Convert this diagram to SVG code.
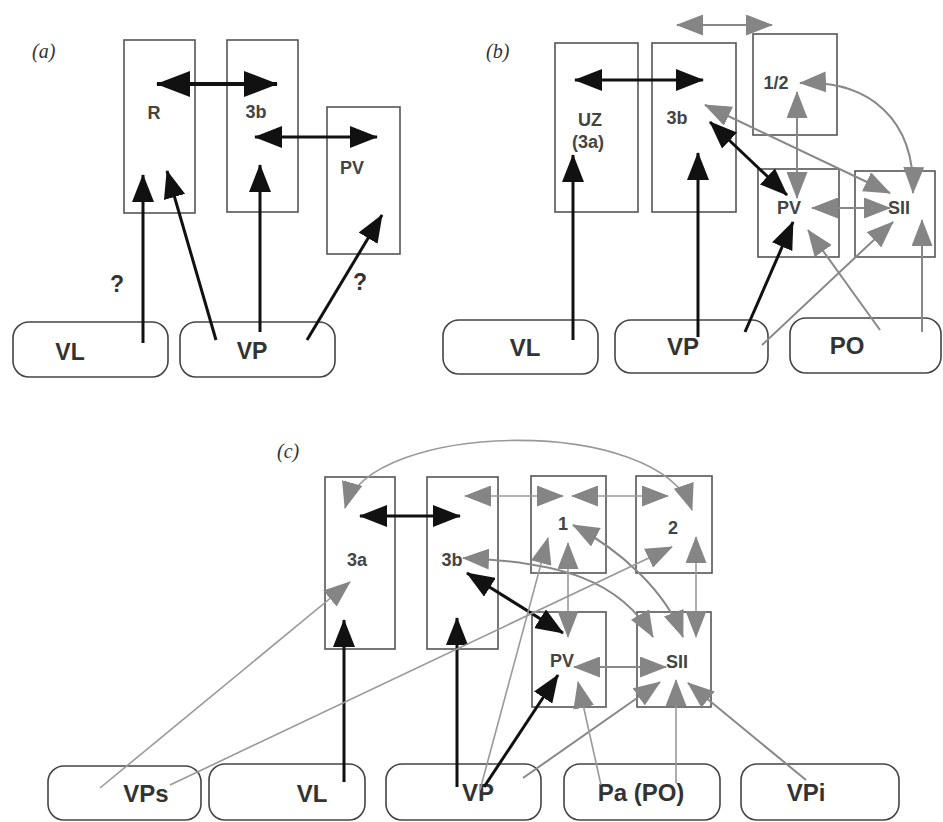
<svg xmlns="http://www.w3.org/2000/svg" width="943" height="822" viewBox="0 0 943 822">
<style>
.box{fill:none;stroke:#555;stroke-width:1.6}
.rbox{fill:none;stroke:#444;stroke-width:1.6}
.lbl{font-family:"Liberation Sans",Arial,sans-serif;font-size:18px;font-weight:bold;fill:#444;text-anchor:middle}
.big{font-family:"Liberation Sans",Arial,sans-serif;font-size:24px;font-weight:bold;fill:#333;text-anchor:middle}
.bga{font-size:23px}
.pan{font-family:"Liberation Serif","Times New Roman",serif;font-style:italic;font-size:20px;fill:#333}
.k{fill:none;stroke:#111;stroke-width:3}
.kl{fill:none;stroke:#111;stroke-width:4}
.g{fill:none;stroke:#888;stroke-width:2}
.gt{fill:none;stroke:#999;stroke-width:1.6}
</style>
<defs>
<marker id="hbl" viewBox="0 0 34 26" refX="33" refY="13" markerWidth="34" markerHeight="26" markerUnits="userSpaceOnUse" orient="auto-start-reverse"><path d="M0,0 L34,13 L0,26 z" fill="#111"/></marker>
<marker id="hb" viewBox="0 0 28 22" refX="27" refY="11" markerWidth="28" markerHeight="22" markerUnits="userSpaceOnUse" orient="auto-start-reverse"><path d="M0,0 L28,11 L0,22 z" fill="#111"/></marker>
<marker id="hg" viewBox="0 0 27 21" refX="26" refY="10.5" markerWidth="27" markerHeight="21" markerUnits="userSpaceOnUse" orient="auto-start-reverse"><path d="M0,0 L27,10.5 L0,21 z" fill="#858585"/></marker>
</defs>
<rect width="943" height="822" fill="#fff"/>

<!-- Panel a -->
<text class="pan" x="32" y="58">(a)</text>
<g id="a-R"><rect class="box" x="124" y="40" width="71" height="173"/><text class="lbl" x="154" y="119">R</text></g>
<g id="a-3b"><rect class="box" x="227" y="40" width="71" height="172"/><text class="lbl" x="256" y="118">3b</text></g>
<g id="a-PV"><rect class="box" x="327" y="107" width="73" height="147"/><text class="lbl" x="352" y="174">PV</text></g>
<g id="a-VL"><rect class="rbox" x="13" y="322" width="155" height="55" rx="16"/><text class="big bga" x="70" y="360">VL</text></g>
<g id="a-VP"><rect class="rbox" x="180" y="322" width="155" height="55" rx="16"/><text class="big bga" x="252" y="359">VP</text></g>
<text class="big bga" x="117" y="292">?</text>
<text class="big bga" x="360" y="290">?</text>

<!-- Panel b -->
<text class="pan" x="486" y="58">(b)</text>
<g id="b-UZ"><rect class="box" x="555" y="43" width="83" height="169"/><text class="lbl" x="590" y="126">UZ</text><text class="lbl" x="588" y="148">(3a)</text></g>
<g id="b-3b"><rect class="box" x="652" y="43" width="84" height="169"/><text class="lbl" x="677" y="124">3b</text></g>
<g id="b-12"><rect class="box" x="753" y="34" width="84" height="101"/><text class="lbl" x="776" y="89">1/2</text></g>
<g id="b-PV"><rect class="box" x="758" y="169" width="81" height="88"/><text class="lbl" x="789" y="214">PV</text></g>
<g id="b-SII"><rect class="box" x="855" y="171" width="80" height="86"/><text class="lbl" x="899" y="214">SII</text></g>
<g id="b-VL"><rect class="rbox" x="443" y="320" width="155" height="54" rx="16"/><text class="big" x="525" y="356">VL</text></g>
<g id="b-VP"><rect class="rbox" x="615" y="320" width="153" height="53" rx="16"/><text class="big" x="683" y="355">VP</text></g>
<g id="b-PO"><rect class="rbox" x="790" y="318" width="151" height="55" rx="16"/><text class="big" x="847" y="354">PO</text></g>

<!-- Panel c -->
<text class="pan" x="277" y="458">(c)</text>
<g id="c-3a"><rect class="box" x="325" y="477" width="70" height="172"/><text class="lbl" x="357" y="566">3a</text></g>
<g id="c-3b"><rect class="box" x="427" y="477" width="71" height="172"/><text class="lbl" x="452" y="566">3b</text></g>
<g id="c-1"><rect class="box" x="531" y="476" width="75" height="97"/><text class="lbl" x="563" y="530">1</text></g>
<g id="c-2"><rect class="box" x="636" y="476" width="76" height="97"/><text class="lbl" x="673" y="534">2</text></g>
<g id="c-PV"><rect class="box" x="532" y="612" width="74" height="95"/><text class="lbl" x="562" y="667">PV</text></g>
<g id="c-SII"><rect class="box" x="637" y="612" width="74" height="95"/><text class="lbl" x="677" y="668">SII</text></g>
<g id="c-VPs"><rect class="rbox" x="48" y="766" width="153" height="54" rx="16"/><text class="big" x="146" y="802">VPs</text></g>
<g id="c-VL"><rect class="rbox" x="209" y="764" width="156" height="56" rx="16"/><text class="big" x="312" y="802">VL</text></g>
<g id="c-VP"><rect class="rbox" x="386" y="764" width="155" height="56" rx="16"/><text class="big" x="478" y="801">VP</text></g>
<g id="c-Pa"><rect class="rbox" x="564" y="764" width="156" height="56" rx="16"/><text class="big" x="641" y="801">Pa (PO)</text></g>
<g id="c-VPi"><rect class="rbox" x="741" y="764" width="158" height="56" rx="16"/><text class="big" x="806" y="801">VPi</text></g>

<g id="connectors">
<!-- a -->
<line class="kl" x1="157" y1="84" x2="277" y2="84" marker-start="url(#hbl)" marker-end="url(#hbl)"/>
<line class="k" x1="255" y1="137" x2="377" y2="137" marker-start="url(#hb)" marker-end="url(#hb)"/>
<line class="k" x1="143" y1="343" x2="143" y2="175" marker-end="url(#hb)"/>
<line class="k" x1="216" y1="340" x2="167" y2="171" marker-end="url(#hb)"/>
<line class="k" x1="260" y1="332" x2="260" y2="165" marker-end="url(#hb)"/>
<line class="k" x1="307" y1="340" x2="382" y2="215" marker-end="url(#hb)"/>
<!-- b -->
<line class="g" x1="677" y1="25" x2="772" y2="25" marker-start="url(#hg)" marker-end="url(#hg)"/>
<line class="k" x1="575" y1="80" x2="703" y2="80" marker-start="url(#hb)" marker-end="url(#hb)"/>
<line class="k" x1="573" y1="340" x2="573" y2="155" marker-end="url(#hb)"/>
<line class="k" x1="698" y1="337" x2="698" y2="153" marker-end="url(#hb)"/>
<line class="k" x1="710" y1="122" x2="787" y2="195" marker-start="url(#hb)" marker-end="url(#hb)"/>
<line class="k" x1="745" y1="332" x2="793" y2="222" marker-end="url(#hb)"/>
<line class="g" x1="797" y1="92" x2="797" y2="198" marker-start="url(#hg)" marker-end="url(#hg)"/>
<path class="g" d="M800,83 C870,80 915,120 913,193" marker-start="url(#hg)" marker-end="url(#hg)"/>
<line class="g" x1="705" y1="105" x2="890" y2="193" marker-start="url(#hg)" marker-end="url(#hg)"/>
<line class="g" x1="812" y1="208" x2="890" y2="208" marker-start="url(#hg)" marker-end="url(#hg)"/>
<line class="g" x1="762" y1="345" x2="893" y2="222" marker-end="url(#hg)"/>
<line class="g" x1="880" y1="330" x2="808" y2="230" marker-end="url(#hg)"/>
<line class="g" x1="922" y1="332" x2="922" y2="220" marker-end="url(#hg)"/>
<!-- c -->
<path class="gt" d="M345,508 C370,420 660,415 692,510" marker-start="url(#hg)" marker-end="url(#hg)"/>
<line class="k" x1="360" y1="516" x2="460" y2="516" marker-start="url(#hb)" marker-end="url(#hb)"/>
<line class="gt" x1="465" y1="496" x2="563" y2="496" marker-start="url(#hg)" marker-end="url(#hg)"/>
<line class="gt" x1="572" y1="496" x2="668" y2="496" marker-start="url(#hg)" marker-end="url(#hg)"/>
<path class="g" d="M463,558 C560,562 620,580 653,637" marker-start="url(#hg)" marker-end="url(#hg)"/>
<path class="g" d="M573,525 C620,550 665,590 683,637" marker-start="url(#hg)" marker-end="url(#hg)"/>
<line class="gt" x1="696" y1="537" x2="696" y2="637" marker-start="url(#hg)" marker-end="url(#hg)"/>
<line class="gt" x1="568" y1="543" x2="568" y2="637" marker-start="url(#hg)" marker-end="url(#hg)"/>
<line class="k" x1="467" y1="573" x2="563" y2="633" marker-start="url(#hb)" marker-end="url(#hb)"/>
<line class="k" x1="484" y1="787" x2="558" y2="675" marker-end="url(#hb)"/>
<line class="k" x1="344" y1="782" x2="344" y2="620" marker-end="url(#hb)"/>
<line class="k" x1="457" y1="787" x2="457" y2="618" marker-end="url(#hb)"/>
<line class="gt" x1="100" y1="788" x2="350" y2="582" marker-end="url(#hg)"/>
<line class="gt" x1="170" y1="785" x2="672" y2="547" marker-end="url(#hg)"/>
<line class="gt" x1="480" y1="790" x2="548" y2="538" marker-end="url(#hg)"/>
<line class="g" x1="523" y1="778" x2="660" y2="682" marker-end="url(#hg)"/>
<line class="gt" x1="601" y1="785" x2="578" y2="682" marker-end="url(#hg)"/>
<line class="gt" x1="676" y1="783" x2="676" y2="680" marker-end="url(#hg)"/>
<line class="g" x1="806" y1="780" x2="688" y2="683" marker-end="url(#hg)"/>
<line class="g" x1="574" y1="667" x2="666" y2="667" marker-start="url(#hg)" marker-end="url(#hg)"/>
</g>
</svg>
